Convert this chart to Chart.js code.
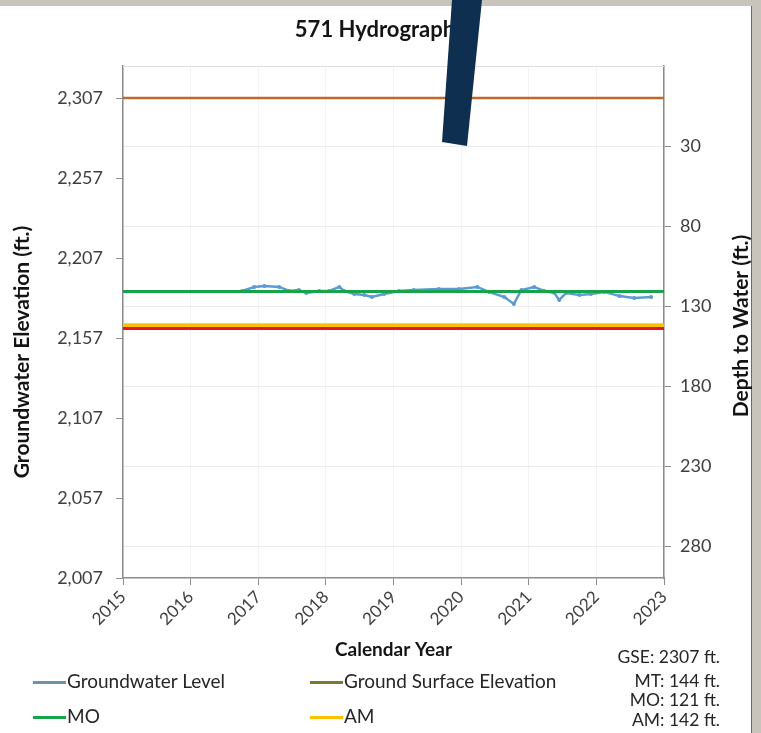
<!DOCTYPE html>
<html>
<head>
<meta charset="utf-8">
<script src="https://cdn.jsdelivr.net/npm/chart.js@4.4.1/dist/chart.umd.min.js"></script>
<style>
  html, body { margin: 0; padding: 0; }
  body { width: 761px; height: 733px; position: relative; overflow: hidden; background: #c8c4bc; font-family: Lato, sans-serif; }
  #box { position: absolute; left: 0; top: 6px; width: 751px; height: 727px; background: #fff; border-right: 1px solid #6a6a6a; }
  #chart { position: absolute; left: 0; top: 0; }
  .leg { position: absolute; font-size: 19px; color: #262626; white-space: nowrap; line-height: 20px; }
  .leg i { display: inline-block; width: 33px; height: 3px; vertical-align: middle; margin-right: 1px; position: relative; top: -1px; }
  .note { position: absolute; right: 41px; font-size: 17.5px; color: #262626; text-align: right; white-space: nowrap; line-height: 20px; }
</style>
</head>
<body>
<div id="box"></div>
<canvas id="chart" width="761" height="733"></canvas>
<div id="legend"></div>
<div id="notes"></div>
<script>
// --- datos ---
const TITLE = '571 Hydrograph';
const GSE = 2307;                     // ground surface elevation (ft.)
const DEPTH_MO = 121;
const DEPTH_MT = 144;
const DEPTH_AM = 142;
const YEAR_MIN = 2015;
const YEAR_MAX = 2023;

const elevTicks = [2007, 2057, 2107, 2157, 2207, 2257, 2307];
const depthTicks = [30, 80, 130, 180, 230, 280];

const gwDates = [2016.76, 2016.94, 2017.09, 2017.31, 2017.46, 2017.60, 2017.71, 2017.90,
  2018.05, 2018.20, 2018.27, 2018.42, 2018.57, 2018.68, 2018.86, 2019.08, 2019.30,
  2019.67, 2019.97, 2020.24, 2020.41, 2020.64, 2020.78, 2020.89, 2021.08, 2021.23,
  2021.38, 2021.45, 2021.55, 2021.75, 2021.92, 2022.12, 2022.34, 2022.56, 2022.81];
const gwElev = [2186.4, 2188.9, 2189.5, 2188.9, 2186.4, 2187.0, 2185.1, 2186.4,
  2186.4, 2188.9, 2186.4, 2184.5, 2183.9, 2182.6, 2184.5, 2186.4, 2187.0,
  2187.6, 2187.6, 2188.9, 2185.8, 2182.6, 2178.3, 2187.0, 2188.9, 2186.4,
  2185.1, 2180.8, 2185.1, 2183.9, 2184.5, 2185.8, 2183.2, 2182.0, 2182.6];

const notes = ['GSE: 2307 ft.', 'MT: 144 ft.', 'MO: 121 ft.', 'AM: 142 ft.'];

// línea horizontal de un extremo al otro
const flat = (y) => [{ x: YEAR_MIN, y: y }, { x: YEAR_MAX, y: y }];

Chart.defaults.font.family = 'Lato, sans-serif';
Chart.defaults.color = '#404040';

const AXIS_GREY = '#8c8c8c';

// títulos de ejes verticales y la barra azul oscura encima
const extras = {
  id: 'extras',
  beforeDatasetsDraw(chart) {
    const { ctx, chartArea: a } = chart;
    ctx.save();
    ctx.strokeStyle = '#dedede';
    ctx.lineWidth = 1;
    ctx.beginPath();
    ctx.moveTo(a.left, a.top + 0.5);
    ctx.lineTo(a.right, a.top + 0.5);
    ctx.stroke();
    ctx.restore();
  },
  afterDraw(chart) {
    const { ctx } = chart;
    ctx.save();
    ctx.fillStyle = '#141414';
    ctx.textAlign = 'center';
    ctx.textBaseline = 'middle';

    ctx.font = 'bold 22px Lato, sans-serif';
    ctx.fillText(TITLE, 375, 30);

    ctx.font = 'bold 21px Lato, sans-serif';
    ctx.save();
    ctx.translate(22, 352);
    ctx.rotate(-Math.PI / 2);
    ctx.fillText('Groundwater Elevation (ft.)', 0, 0);
    ctx.restore();

    ctx.save();
    ctx.translate(741, 326);
    ctx.rotate(-Math.PI / 2);
    ctx.fillText('Depth to Water (ft.)', 0, 0);
    ctx.restore();

    // barra diagonal
    ctx.fillStyle = '#0f2f50';
    ctx.beginPath();
    ctx.moveTo(452, 0);
    ctx.lineTo(482, 0);
    ctx.lineTo(467, 146);
    ctx.lineTo(442, 142);
    ctx.closePath();
    ctx.fill();
    ctx.restore();
  }
};

const datasets = [
  {
    label: 'Groundwater Level',
    data: gwDates.map((d, i) => ({ x: d, y: gwElev[i] })),
    borderColor: '#5b9bd5',
    backgroundColor: '#5b9bd5',
    borderWidth: 2.5,
    pointRadius: 2,
    pointBorderWidth: 0,
    order: 5,
    legendColor: '#6f92ab'
  },
  {
    label: 'Ground Surface Elevation',
    data: flat(GSE),
    borderColor: '#c0672b',
    borderWidth: 2.5,
    pointRadius: 0,
    order: 4,
    legendColor: '#7d7a2e'
  },
  {
    label: 'AM',
    data: flat(GSE - DEPTH_AM),
    borderColor: '#ffc000',
    borderWidth: 4,
    pointRadius: 0,
    order: 3,
    legendColor: '#ffc000'
  },
  {
    label: 'MT',
    data: flat(GSE - DEPTH_MT),
    borderColor: '#e8141c',
    borderWidth: 3,
    pointRadius: 0,
    order: 2,
    legendColor: null
  },
  {
    label: 'MO',
    data: flat(GSE - DEPTH_MO),
    borderColor: '#17a34a',
    borderWidth: 3,
    pointRadius: 0,
    order: 1,
    legendColor: '#17a34a'
  }
];

const chart = new Chart(document.getElementById('chart'), {
  type: 'line',
  data: { datasets: datasets },
  options: {
    responsive: false,
    animation: false,
    devicePixelRatio: 1,
    layout: { padding: { top: 66, left: 0, right: 0, bottom: 71 } },
    plugins: { legend: { display: false }, tooltip: { enabled: false }, title: { display: false } },
    scales: {
      x: {
        type: 'linear',
        min: YEAR_MIN,
        max: YEAR_MAX,
        afterBuildTicks: (s) => { s.ticks = []; for (let y = YEAR_MIN; y <= YEAR_MAX; y++) s.ticks.push({ value: y }); },
        afterFit: (s) => { s.height = 84; },
        ticks: {
          callback: (v) => String(v),
          minRotation: 45, maxRotation: 45,
          font: { size: 17 },
          padding: 2
        },
        grid: { color: '#f3f3f3', tickColor: AXIS_GREY, tickLength: 7 },
        border: { color: AXIS_GREY, width: 1.5 },
        title: { display: true, text: 'Calendar Year', font: { size: 19, weight: 'bold' }, color: '#141414', padding: { top: 0, bottom: 1 } }
      },
      y: {
        position: 'left',
        min: 2007,
        max: 2327,
        afterBuildTicks: (s) => { s.ticks = elevTicks.map(v => ({ value: v })); },
        afterFit: (s) => { s.width = 123; },
        ticks: { callback: (v) => v.toLocaleString('en-US'), font: { size: 18 }, padding: 13 },
        grid: { drawOnChartArea: false, tickColor: AXIS_GREY, tickLength: 7 },
        border: { color: AXIS_GREY, width: 1.5 }
      },
      y2: {
        position: 'right',
        reverse: true,
        min: GSE - 2327,
        max: GSE - 2007,
        afterBuildTicks: (s) => { s.ticks = depthTicks.map(v => ({ value: v })); },
        afterFit: (s) => { s.width = 97; },
        ticks: { callback: (v) => String(v), font: { size: 18 }, padding: 9 },
        grid: { color: '#ebebeb', tickColor: AXIS_GREY, tickLength: 7 },
        border: { color: AXIS_GREY, width: 1.5 }
      }
    }
  },
  plugins: [extras]
});

// leyenda en dos columnas
const legendPos = {
  'Groundwater Level': [33, 671],
  'Ground Surface Elevation': [310, 671],
  'MO': [33, 706],
  'AM': [310, 706]
};
const legendBox = document.getElementById('legend');
chart.data.datasets.forEach((ds) => {
  const pos = legendPos[ds.label];
  if (!pos || !ds.legendColor) return;
  const el = document.createElement('div');
  el.className = 'leg';
  el.style.left = pos[0] + 'px';
  el.style.top = pos[1] + 'px';
  el.innerHTML = '<i style="background:' + ds.legendColor + '"></i>' + ds.label;
  legendBox.appendChild(el);
});

const notesTop = [647, 671, 690, 710];
const notesBox = document.getElementById('notes');
notes.forEach((t, i) => {
  const el = document.createElement('div');
  el.className = 'note';
  el.style.top = notesTop[i] + 'px';
  el.textContent = t;
  notesBox.appendChild(el);
});
</script>
</body>
</html>
